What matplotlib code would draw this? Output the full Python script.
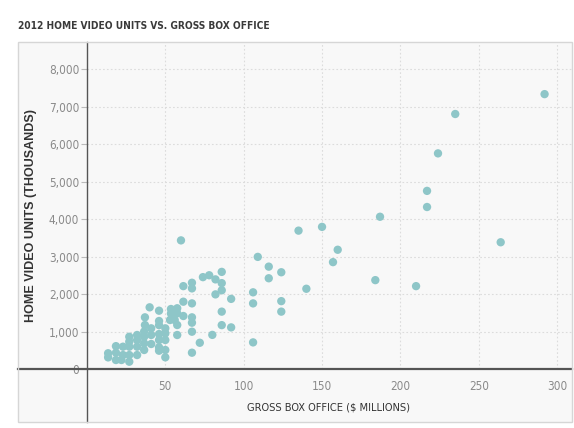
import matplotlib
matplotlib.use("Agg")
import matplotlib.pyplot as plt
from matplotlib.patches import Rectangle
from matplotlib.ticker import FuncFormatter

# gross box office ($ millions) and home video units (thousands)
box_office = [
    292, 235, 224, 217, 217, 187, 264, 184, 210,
    135, 150, 160, 157, 109, 116, 116, 124, 140, 106, 106, 124, 124, 106,
    60, 61.5, 61.5, 61.5, 67, 67, 67, 67, 67, 67, 67, 74, 78, 82, 82,
    86, 86, 86, 86, 86, 92, 92, 80, 72,
    13.5, 13.5, 18.5, 18.5, 18.5, 22, 23, 23, 27, 27, 27, 27, 27,
    32, 32, 32, 32, 36.5, 36.5, 36.5, 36.5, 37, 37, 40, 41, 41, 41,
    46, 46, 46, 46, 46, 46, 46, 50, 50, 50, 50, 50,
    53.6, 53.6, 53, 56, 57.6, 57.6, 57.6, 57.6,
]
video_units = [
    7330, 6800, 5750, 4750, 4320, 4060, 3380, 2370, 2210,
    3690, 3790, 3180, 2850, 2990, 2730, 2420, 2580, 2140, 2045, 1750, 1810, 1530, 710,
    3430, 2210, 1795, 1413, 2300, 2150, 1750, 1378, 1235, 995, 435, 2450, 2500, 2390, 1990,
    2590, 2290, 2100, 1530, 1170, 1870, 1110, 910, 700,
    420, 310, 610, 435, 240, 240, 595, 373, 860, 730, 595, 373, 195,
    907, 773, 595, 373, 1000, 860, 685, 507, 1378, 1173, 1645, 1085, 907, 667,
    1555, 1280, 1170, 933, 773, 578, 488, 1085, 950, 773, 507, 312,
    1600, 1480, 1307, 1307, 1620, 1485, 1173, 907,
]

x_ticks = [50, 100, 150, 200, 250, 300]
y_ticks = [0, 1000, 2000, 3000, 4000, 5000, 6000, 7000, 8000]

panel = "#f8f8f8"

fig = plt.figure(figsize=(5.74, 4.28), dpi=100)
ax = fig.add_axes([18 / 574, 6 / 428, 554 / 574, 380 / 428])
ax.set_facecolor(panel)
ax.set_xlim(-44, 309.5)
ax.set_ylim(-1413, 8720)

# grid only in the positive quadrant
ax.hlines(y_ticks[1:], 0, 309.5, colors="#dcdcdc", linestyles=(0, (1.5, 2)), lw=0.8, zorder=1)
ax.vlines(x_ticks, 0, 8720, colors="#dcdcdc", linestyles=(0, (1.5, 2)), lw=0.8, zorder=1)

ax.scatter(box_office, video_units, s=36, color="#8ec6c8", edgecolors="none", zorder=3)

for side in ["top", "right"]:
    ax.spines[side].set_visible(False)
ax.spines["left"].set_position(("data", 0))
ax.spines["bottom"].set_position(("data", 0))
ax.spines["left"].set_color("#555555")
ax.spines["bottom"].set_color("#555555")
ax.spines["left"].set_linewidth(1.0)
ax.spines["bottom"].set_linewidth(1.6)
ax.spines["left"].set_zorder(2)
ax.spines["bottom"].set_zorder(2)

# panel border
ax.add_patch(Rectangle((0, 0), 1, 1, transform=ax.transAxes, fill=False,
                       edgecolor="#d6d6d6", lw=1.0, clip_on=False, zorder=4))

ax.set_xticks(x_ticks)
ax.set_yticks(y_ticks)
ax.yaxis.set_major_formatter(FuncFormatter(lambda v, p: f"{int(v):,}"))
ax.tick_params(axis="y", length=4, width=0.8, color="#bbbbbb", pad=1.5,
               labelsize=8.5, labelcolor="#8a8a8a")
ax.tick_params(axis="x", length=0, pad=8, labelsize=8.5, labelcolor="#8a8a8a")
for lab in ax.get_xticklabels() + ax.get_yticklabels():
    lab.set_fontstretch("condensed")
ax.get_yticklabels()[0].set_bbox(dict(facecolor=panel, edgecolor="none", pad=1.5))

ax.text(-36, 4100, "HOME VIDEO UNITS (THOUSANDS)", rotation=90, ha="center", va="center",
        fontsize=9, fontweight="bold", color="#333333", family="Liberation Sans")
ax.text(154, -1020, "GROSS BOX OFFICE ($ MILLIONS)", ha="center", va="center",
        fontsize=7.9, color="#333333", fontstretch="condensed")

fig.text(18 / 574, 1 - 26 / 428, "2012 HOME VIDEO UNITS VS. GROSS BOX OFFICE",
         ha="left", va="center", fontsize=7.3, fontweight="bold", color="#3a3a3a",
         fontstretch="condensed")

fig.savefig("out.png", dpi=100, facecolor="white")
